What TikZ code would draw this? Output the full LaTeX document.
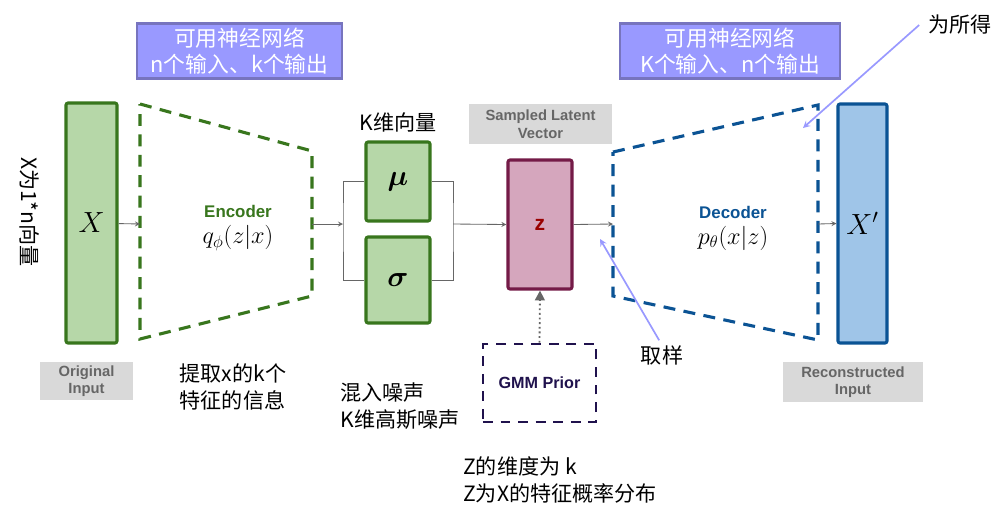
\documentclass[tikz,border=0pt]{standalone}
\usepackage{amsmath}
\usepackage{fontspec}
\setmainfont{Liberation Sans}
\newfontfamily\cjk{Noto Sans CJK SC}
\usepackage{xcolor}
\usepackage{tikz}
\usetikzlibrary{arrows.meta}

\definecolor{grnfill}{HTML}{B6D7A8}
\definecolor{grnline}{HTML}{38761D}
\definecolor{blufill}{HTML}{9FC5E8}
\definecolor{bluline}{HTML}{0B5394}
\definecolor{pnkfill}{HTML}{D5A6BD}
\definecolor{pnkline}{HTML}{741B47}
\definecolor{zred}{HTML}{990000}
\definecolor{tagfill}{HTML}{D9D9D9}
\definecolor{tagtext}{HTML}{666666}
\definecolor{purpfill}{HTML}{9999FF}
\definecolor{purpline}{HTML}{7774BE}
\definecolor{gmmline}{HTML}{20124D}
\definecolor{wiregray}{HTML}{666666}

\begin{document}
\begin{tikzpicture}[x=0.025cm, y=-0.025cm,
    vecbox/.style={draw=#1, line width=2.2pt, rounded corners=1.5pt, inner sep=0pt},
    tag/.style={fill=tagfill, text=tagtext, font=\bfseries\fontsize{10.5}{12.5}\selectfont, align=center, inner sep=0pt},
    netbox/.style={draw=purpline, fill=purpfill, line width=1.6pt, text=white, align=center, minimum height=1.3cm, font=\cjk\fontsize{15.5}{18}\selectfont, minimum width=#1},
    zh/.style={font=\cjk\fontsize{15}{19}\selectfont, align=left},
    arr/.style={->, >=stealth, draw=wiregray, line width=0.6pt},
    wire/.style={draw=wiregray, line width=0.6pt},
    note/.style={->, >=stealth, draw=purpfill, line width=1.2pt},
    trap/.style={dash pattern=on 8.5pt off 6pt, line width=2.2pt, draw=#1},
    bigmath/.style={font=\fontsize{20}{24}\selectfont},
    coder/.style={font=\bfseries\fontsize{12}{14}\selectfont, inner sep=0.5pt},
    density/.style={font=\fontsize{17}{20}\selectfont, inner sep=0.5pt}
]
\fill[white] (0,0) rectangle (1005,509);

% input and output vectors
\node[vecbox=grnline, fill=grnfill, minimum width=1.275cm, minimum height=6cm, bigmath] (inx) at (91.5,223) {$X$};
\node[vecbox=bluline, fill=blufill, minimum width=1.225cm, minimum height=5.975cm, bigmath] (outx) at (862.5,223.5) {$X'$};
\node[tag, minimum width=2.325cm, minimum height=0.95cm] (orig) at (86.5,381) {Original\\Input};
\node[tag, minimum width=3.5cm, minimum height=1cm] (recon) at (853,382) {Reconstructed\\Input};

% encoder / decoder
\coordinate (encin) at (140,224);
\coordinate (encout) at (312,224);
\coordinate (decin) at (613,224);
\coordinate (decout) at (818,224);
\draw[trap=grnline] (140,104) -- (312,151) -- (312,296) -- (140,339) -- cycle;
\draw[trap=bluline] (613,152) -- (818,105) -- (818,340) -- (613,296) -- cycle;
\node[coder, text=grnline] (enc) at (238,211) {Encoder};
\node[density] (qenc) at (238,238) {$q_{\phi}(z|x)$};
\node[coder, text=bluline] (dec) at (733,212) {Decoder};
\node[density] (pdec) at (733,238) {$p_{\theta}(x|z)$};

% mean and deviation
\node[vecbox=grnline, fill=grnfill, minimum width=1.6cm, minimum height=1.975cm, bigmath] (mu) at (398,181.5) {$\boldsymbol{\mu}$};
\node[vecbox=grnline, fill=grnfill, minimum width=1.6cm, minimum height=2.15cm, bigmath] (sigma) at (398,280) {$\boldsymbol{\sigma}$};
\coordinate (split) at (343,224);
\coordinate (merge) at (453,224);

% latent vector and prior
\node[vecbox=pnkline, fill=pnkfill, minimum width=1.6cm, minimum height=3.225cm, text=zred, font=\bfseries\fontsize{15}{18}\selectfont] (z) at (540,224.5) {z};
\node[tag, minimum width=3.575cm, minimum height=1cm] (latent) at (540.5,124) {Sampled Latent\\Vector};
\node[draw=gmmline, dash pattern=on 7pt off 5.5pt, line width=2pt, text=gmmline, font=\bfseries\fontsize{11.5}{14}\selectfont, minimum width=2.825cm, minimum height=1.95cm] (gmm) at (539.5,383) {GMM Prior};

% networks
\node[netbox=5.125cm] (nnenc) at (239.5,51) {可用神经网络\\n个输入、k个输出};
\node[netbox=5.5cm] (nndec) at (730,51) {可用神经网络\\K个输入、n个输出};

% notes
\node[zh, rotate=-90] (xvec) at (30,212) {X为1*n向量};
\node[zh] (kdim) at (398,122) {K维向量};
\node[zh] (feat) at (233,387) {提取x的k个\\特征的信息};
\node[zh] (noise) at (400,406) {混入噪声\\K维高斯噪声};
\node[zh] (zdist) at (560,480) {Z的维度为 k\\Z为X的特征概率分布};
\node[zh] (suode) at (960,25) {为所得};
\node[zh] (quyang) at (662,355) {取样};
\coordinate (suodetip) at (803,128);
\coordinate (quyangtip) at (600,239);

\draw[arr] (inx) -- (encin);
\draw[arr] (encout) -- (split);
\draw[wire] (mu.west) -| (split) |- (sigma.west);
\draw[wire] (mu.east) -| (merge) |- (sigma.east);
\draw[arr] (merge) -- (z.west);
\draw[arr] (z.east) -- (decin);
\draw[arr] (decout) -- (outx.west);
\draw[dotted, line width=1.3pt, draw=wiregray, -{Triangle[length=7pt,width=7pt]}] (gmm.north) -- (z.south);
\draw[note] ([xshift=-3pt]suode.west) -- (suodetip);
\draw[note] ([xshift=-2pt]quyang.north) -- (quyangtip);
\end{tikzpicture}
\end{document}
